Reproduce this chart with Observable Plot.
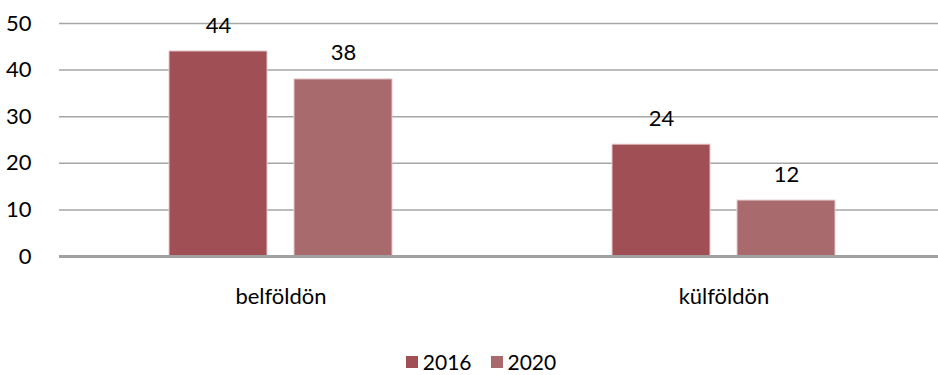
<!DOCTYPE html>
<html>
<head>
<meta charset="utf-8">
<script src="https://cdn.jsdelivr.net/npm/d3@7"></script>
<script src="https://cdn.jsdelivr.net/npm/@observablehq/plot@0.6"></script>
<style>
  html, body { margin: 0; background: #fff; font-family: Lato, "Open Sans", sans-serif; overflow: hidden; }
  #chart svg { display: block; }
  #legend { display: flex; justify-content: center; align-items: center; gap: 19px; font-size: 21px; line-height: 20px; color: #000; margin-left: 24px; margin-top: 12px; height: 20px; }
  #legend .item { display: flex; align-items: center; gap: 5px; }
  #legend .sw { width: 12px; height: 12px; display: inline-block; }
</style>
</head>
<body>
<div id="chart"></div>
<div id="legend"></div>
<script>
const categories = ["belföldön", "külföldön"];
const years = ["2016", "2020"];
const values2016 = [44, 24];
const values2020 = [38, 12];
const colors = ["#A04F55", "#A86A6C"];
const yTicks = [0, 10, 20, 30, 40, 50];

const data = [];
categories.forEach((c, i) => {
  data.push({cat: c, year: years[0], value: values2016[i]});
  data.push({cat: c, year: years[1], value: values2020[i]});
});

const chart = Plot.plot({
  width: 938,
  height: 340,
  marginTop: 23,
  marginBottom: 84,
  marginLeft: 59,
  marginRight: 0,
  style: {fontFamily: "Lato, 'Open Sans', sans-serif", fontSize: "22px", color: "#000", background: "#fff", overflow: "hidden"},
  fx: {domain: categories, padding: 0, range: [59, 945], label: null},
  x: {domain: years, paddingInner: 0.214, paddingOuter: 0.865, axis: null},
  y: {domain: [0, 50], ticks: yTicks, label: null},
  color: {domain: years, range: colors},
  marks: [
    Plot.ruleY(yTicks.filter(d => d > 0), {stroke: "#A6A6A6", strokeWidth: 1.5}),
    Plot.axisY({ticks: yTicks, tickSize: 0, tickPadding: 28, fontSize: 22, label: null}),
    Plot.axisFx({anchor: "bottom", tickSize: 0, tickPadding: 32, fontSize: 22, label: null}),
    Plot.barY(data, {fx: "cat", x: "year", y: "value", fill: "year", stroke: "#E6C9CB", strokeWidth: 1}),
    Plot.ruleY([0], {stroke: "#A0A0A0", strokeWidth: 3}),
    Plot.text(data, {fx: "cat", x: "year", y: "value", text: d => String(d.value), dy: -26, fontSize: 22, fill: "#000"})
  ]
});
document.getElementById("chart").appendChild(chart);

const legend = document.getElementById("legend");
years.forEach((y, i) => {
  const item = document.createElement("span");
  item.className = "item";
  item.innerHTML = `<span class="sw" style="background:${colors[i]}"></span><span>${y}</span>`;
  legend.appendChild(item);
});
</script>
</body>
</html>
